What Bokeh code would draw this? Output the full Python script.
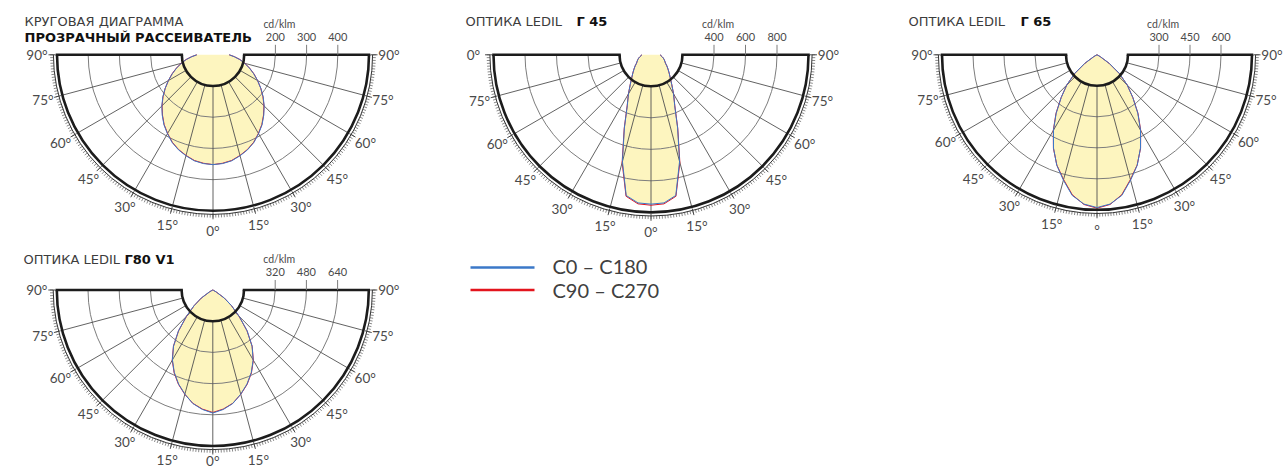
import numpy as np
from bokeh.plotting import figure
from bokeh.models import Range1d
from bokeh.embed import file_html
from bokeh.resources import INLINE
from bokeh.core.properties import value

# ---------------- data (cd/klm) ----------------
ANGLES = [0, 5, 10, 15, 20, 25, 30, 35, 40, 45, 50, 55, 60, 65, 70, 75, 80, 85, 90]

D1_C0_C180 = [352, 350, 345, 335, 324, 310, 292, 274, 253, 232, 210, 187, 165, 144, 124, 105, 87, 68, 52]
D1_C90_C270 = [352, 349, 344, 334, 323, 309, 291, 273, 252, 231, 209, 187, 165, 145, 125, 106, 88, 69, 52]

D2_C0_C180 = [948, 944, 907, 701, 494, 356, 286, 229, 190, 163, 141, 123, 106, 97, 89, 81, 72, 64, 58]
D2_C90_C270 = [955, 950, 912, 708, 497, 358, 287, 230, 190, 163, 141, 123, 106, 97, 89, 81, 72, 64, 58]

D3_C0_C180 = [739, 725, 691, 628, 569, 498, 421, 344, 269, 207, 142, 72, 19, 5, 0, 0, 0, 0, 0]
D3_C90_C270 = [742, 727, 688, 625, 568, 499, 423, 346, 270, 207, 141, 71, 18, 5, 0, 0, 0, 0, 0]

D4_C0_C180 = [631, 615, 591, 553, 513, 467, 414, 351, 274, 192, 126, 73, 21, 5, 0, 0, 0, 0, 0]
D4_C90_C270 = [628, 613, 590, 554, 515, 469, 416, 352, 273, 190, 125, 72, 20, 5, 0, 0, 0, 0, 0]

D1_RING_LABELS = [200, 300, 400]
D2_RING_LABELS = [400, 600, 800]
D3_RING_LABELS = [300, 450, 600]
D4_RING_LABELS = [320, 480, 640]

ANGLE_TICKS = [-90, -75, -60, -45, -30, -15, 0, 15, 30, 45, 60, 75, 90]
D1_ANGLE_TEXT = ["90°", "75°", "60°", "45°", "30°", "15°", "0°", "15°", "30°", "45°", "60°", "75°", "90°"]
D2_ANGLE_TEXT = ["0°", "75°", "60°", "45°", "30°", "15°", "0°", "15°", "30°", "45°", "60°", "75°", "90°"]
D3_ANGLE_TEXT = ["90°", "75°", "60°", "45°", "30°", "15°", "°", "15°", "30°", "45°", "60°", "75°", "90°"]
D4_ANGLE_TEXT = ["90°", "75°", "60°", "45°", "30°", "15°", "0°", "15°", "30°", "45°", "60°", "75°", "90°"]

LEGEND_LABELS = ["C0 – C180", "C90 – C270"]

# ---------------- style ----------------
FONT = "Lato"
TITLE_FONT = "DejaVu Sans"
FILL = "#fdf5bf"
BLUE = "#3b78c8"
RED = "#e3141d"
DARK = "#1c1c1c"
RING = "#7d7d7d"
RADIAL = "#505050"
TXT = "#4a4a4a"

W, H = 1284, 468
X0, Y0 = 0, 0
LABEL_MAX_Y = 460  # keep the lowest angle labels inside the page

p = figure(width=W, height=H, x_range=Range1d(X0, X0 + W), y_range=Range1d(Y0 + H, Y0),
           output_backend="svg", toolbar_location=None,
           x_axis_location=None, y_axis_location=None, min_border=0,
           outline_line_color=None, background_fill_color="white", border_fill_color="white")
p.grid.visible = False


def draw_diagram(name, cx, cy, step_px, step, c0, c90, ring_labels, angle_text):
    k = step_px / step
    p.extra_x_ranges[name + "x"] = Range1d((X0 - cx) / k, (X0 + W - cx) / k)
    p.extra_y_ranges[name + "y"] = Range1d((cy - (Y0 + H)) / k, (cy - Y0) / k)
    kw = dict(x_range_name=name + "x", y_range_name=name + "y")

    def px(v):
        return v / k

    R = 5 * step
    r_in = step
    th = np.radians(np.array(ANGLES, float))
    a = np.concatenate([-th[::-1], th[1:]])

    def xy(vals):
        v = np.asarray(vals, float)
        full = np.concatenate([v[::-1], v[1:]])
        return full * np.sin(a), -full * np.cos(a)

    bx, by = xy(c0)
    rx, ry = xy(c90)
    p.patch(bx, by, fill_color=FILL, line_color=None, **kw)

    # rings
    radii = [2 * step, 3 * step, 4 * step]
    p.arc(x=[0] * 3, y=[0] * 3, radius=radii, start_angle=np.pi, end_angle=2 * np.pi,
          line_color=RING, line_width=1, **kw)
    # radial lines
    deg = np.radians(np.array([d for d in ANGLE_TICKS if abs(d) != 90], float))
    p.segment(x0=r_in * np.sin(deg), y0=-r_in * np.cos(deg), x1=R * np.sin(deg), y1=-R * np.cos(deg),
              line_color=RADIAL, line_width=0.9, **kw)

    # curves
    p.line(rx, ry, line_color=RED, line_width=1, **kw)
    p.line(bx, by, line_color=BLUE, line_width=1, **kw)

    # outline
    p.arc(x=[0, 0], y=[0, 0], radius=[R, r_in], start_angle=np.pi, end_angle=2 * np.pi,
          line_color=DARK, line_width=2.6, **kw)
    p.segment(x0=[-R, r_in], y0=[0, 0], x1=[-r_in, R], y1=[0, 0],
              line_color=DARK, line_width=2.6, line_cap="square", **kw)
    p.arc(x=[0], y=[0], radius=[R + px(3.6)], start_angle=np.pi, end_angle=2 * np.pi,
          line_color=DARK, line_width=0.9, **kw)

    # angular ticks
    t = np.radians(np.arange(-90, 91, 1, dtype=float))
    p.segment(x0=(R + px(3.6)) * np.sin(t), y0=-(R + px(3.6)) * np.cos(t),
              x1=(R + px(6.8)) * np.sin(t), y1=-(R + px(6.8)) * np.cos(t),
              line_color="#3a3a3a", line_width=0.6, **kw)
    tm = np.radians(np.array(ANGLE_TICKS, float))
    p.segment(x0=(R + px(1.5)) * np.sin(tm), y0=-(R + px(1.5)) * np.cos(tm),
              x1=(R + px(8.5)) * np.sin(tm), y1=-(R + px(8.5)) * np.cos(tm),
              line_color="#3a3a3a", line_width=0.9, **kw)

    # angle labels
    rl = R + px(20)
    ly = np.maximum(-rl * np.cos(tm), (cy - LABEL_MAX_Y) / k)
    p.text(x=rl * np.sin(tm), y=ly, text=angle_text,
           text_font=value(FONT), text_font_size=value("13.5px"), text_color=TXT,
           text_align="center", text_baseline="middle", **kw)

    # intensity scale above the top line
    p.segment(x0=ring_labels, y0=[0] * 3, x1=ring_labels, y1=[px(10)] * 3,
              line_color=RING, line_width=1, **kw)
    p.text(x=ring_labels, y=[px(18)] * 3, text=[str(v) for v in ring_labels],
           text_font=value(FONT), text_font_size=value("11px"), text_color=TXT,
           text_align="center", text_baseline="middle", **kw)
    p.text(x=[2 * step - px(12)], y=[px(31)], text=["cd/klm"],
           text_font=value(FONT), text_font_size=value("10.5px"), text_color=TXT,
           text_align="left", text_baseline="middle", **kw)


draw_diagram("d1", 212.5, 54.3, 31.2, 100, D1_C0_C180, D1_C90_C270, D1_RING_LABELS, D1_ANGLE_TEXT)
draw_diagram("d2", 650.5, 54.3, 31.5, 200, D2_C0_C180, D2_C90_C270, D2_RING_LABELS, D2_ANGLE_TEXT)
draw_diagram("d3", 1096.5, 54.3, 31.0, 150, D3_C0_C180, D3_C90_C270, D3_RING_LABELS, D3_ANGLE_TEXT)
draw_diagram("d4", 212.3, 289.5, 31.2, 160, D4_C0_C180, D4_C90_C270, D4_RING_LABELS, D4_ANGLE_TEXT)

# titles
title_kw = dict(text_font=value(TITLE_FONT), text_font_size=value("13px"),
                text_align="left", text_baseline="middle")
p.text(x=[24, 465, 908, 23], y=[21, 21, 21, 259],
       text=["КРУГОВАЯ ДИАГРАММА", "ОПТИКА LEDIL", "ОПТИКА LEDIL", "ОПТИКА LEDIL"],
       text_color="#3c3c3c", **title_kw)
p.text(x=[24, 576, 1020, 124], y=[37, 21, 21, 259],
       text=["ПРОЗРАЧНЫЙ РАССЕИВАТЕЛЬ", "Г 45", "Г 65", "Г80 V1"],
       text_color="#111111", text_font_style="bold", **title_kw)

# legend
p.segment(x0=[470, 470], y0=[267, 289.5], x1=[534, 534], y1=[267, 289.5],
          line_color=[BLUE, RED], line_width=2.6)
p.text(x=[552, 552], y=[265.5, 289.5], text=LEGEND_LABELS,
       text_font=value(FONT), text_font_size=value("20px"), text_color="#404040",
       text_align="left", text_baseline="middle")

open("out.html", "w").write(file_html(p, INLINE))
